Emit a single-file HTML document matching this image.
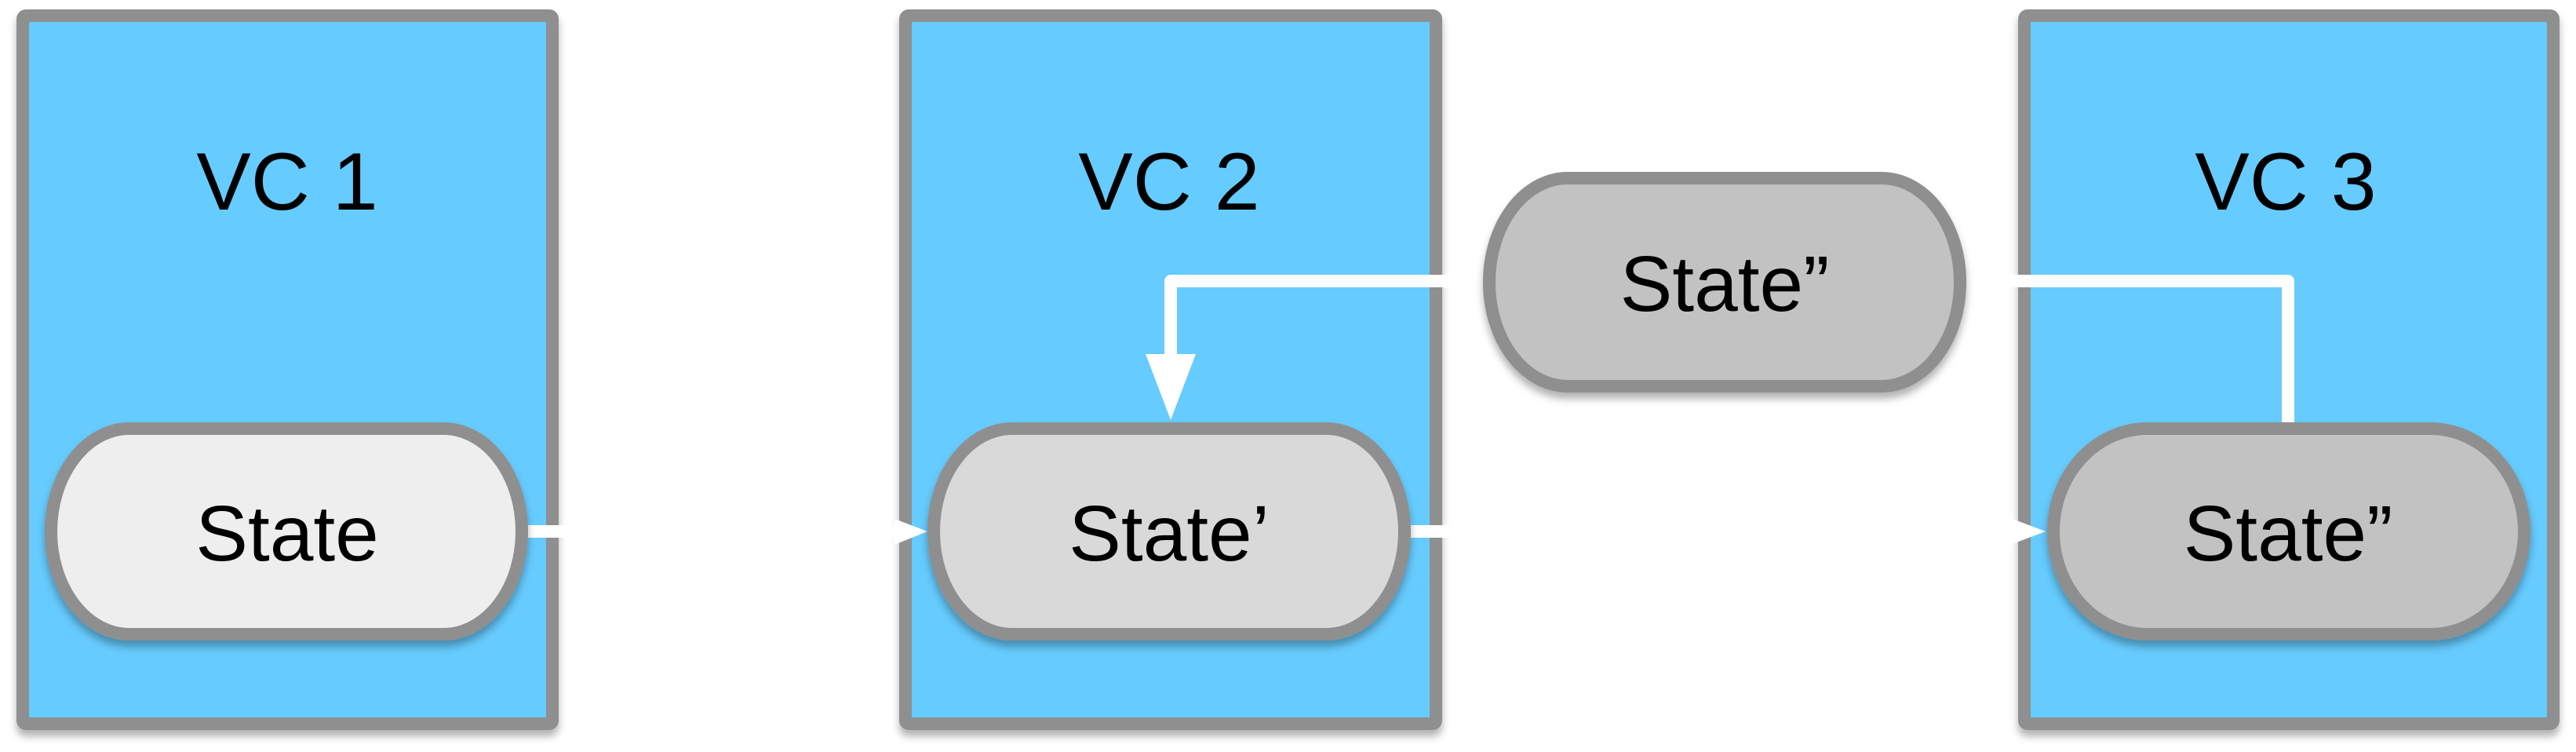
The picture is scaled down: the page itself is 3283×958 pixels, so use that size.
<!DOCTYPE html>
<html><head><meta charset="utf-8"><style>
html,body{margin:0;padding:0;background:#fff;}
svg{display:block;}
text{font-family:"Liberation Sans",sans-serif;fill:#000;}
</style></head><body>
<svg width="3283" height="958" viewBox="0 0 3283 958" xmlns="http://www.w3.org/2000/svg">
<defs>
<filter id="sh" x="-10%" y="-10%" width="120%" height="130%">
<feDropShadow dx="0" dy="8" stdDeviation="5" flood-color="#000" flood-opacity="0.3"/>
</filter>
</defs>
<!-- boxes -->
<g fill="#66cbfe" stroke="#8f8f8f" stroke-width="16" filter="url(#sh)">
<rect x="29" y="20" width="675" height="902" rx="4"/>
<rect x="1154" y="20" width="676" height="902" rx="4"/>
<rect x="2580" y="20" width="674" height="902" rx="4"/>
</g>
<g font-size="104" text-anchor="middle">
<text x="366" y="267">VC 1</text>
<text x="1490" y="267">VC 2</text>
<text x="2913" y="267">VC 3</text>
</g>
<!-- connectors -->
<g stroke="#fff" stroke-width="16" fill="none" stroke-linejoin="round">
<path d="M668 677 H1150"/>
<path d="M1792 677 H2575"/>
<path d="M1900 358 H1492 V455"/>
<path d="M2500 358 H2916 V540"/>
</g>
<g fill="#fff">
<polygon points="1140,661 1182,677 1140,694"/>
<polygon points="2562,660 2607,677 2562,694"/>
<polygon points="1460,451 1524,451 1492,535"/>
</g>
<!-- pills -->
<g stroke="#8f8f8f" stroke-width="16" filter="url(#sh)">
<rect x="65" y="546" width="600" height="262" rx="100" ry="131" fill="#eeeeee"/>
<rect x="1190" y="546" width="600" height="262" rx="100" ry="131" fill="#d9d9d9"/>
<rect x="1898" y="227" width="600" height="265" rx="100" ry="132" fill="#c2c2c2"/>
<rect x="2617" y="546" width="600" height="262" rx="120" ry="131" fill="#c2c2c2"/>
</g>
<g font-size="100" text-anchor="middle">
<text x="366" y="714">State</text>
<text x="1490" y="714">State’</text>
<text x="2198" y="396">State”</text>
<text x="2916" y="714">State”</text>
</g>
</svg>
</body></html>
